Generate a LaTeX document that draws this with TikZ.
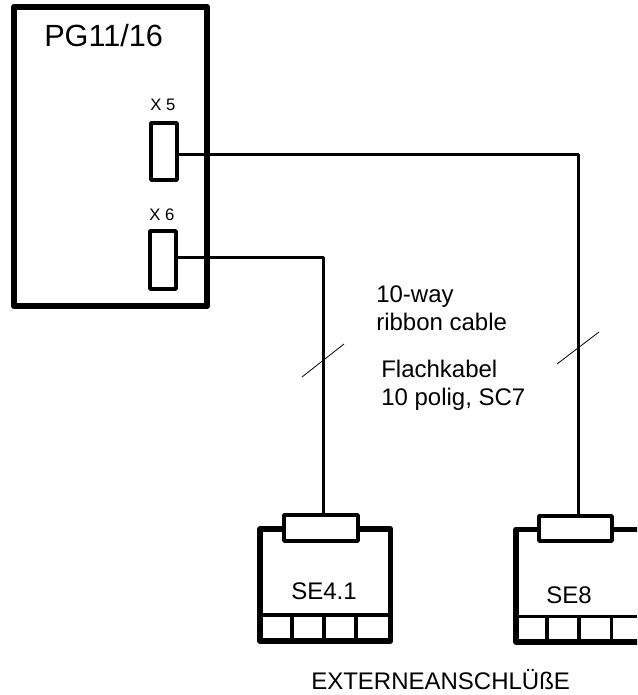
\documentclass[tikz,border=0pt]{standalone}
\usepackage{fontspec}
\setmainfont{Liberation Sans}
\usetikzlibrary{positioning}
\tikzset{
	housing/.style={draw=black, line width=4.8pt, line join=round, rectangle, inner sep=0pt},
	unit/.style={draw=black, line width=4pt, line join=round, rectangle, inner sep=0pt},
	socket/.style={draw=black, fill=white, line width=2.8pt, line join=round, rectangle, inner sep=0pt},
	cable/.style={black, line width=2.5pt, line join=round},
	tick/.style={black, line width=0.6pt},
	divider/.style={black, line width=2.6pt},
	label/.style={inner sep=0pt, font=\fontsize{18pt}{20.4pt}\selectfont, align=left, anchor=base west},
	portname/.style={label, font=\fontsize{12.5pt}{14pt}\selectfont}
}
\begin{document}
\begin{tikzpicture}[x=0.75pt, y=-0.75pt]
	\useasboundingbox (0,0) rectangle (637,695);
	\clip (0,0) rectangle (637,695);
	% main unit
	\node[housing, minimum width=144.75pt, minimum height=224.25pt] (pg) at (110.5,156.5) {};
	\node[label, font=\fontsize{23pt}{26pt}\selectfont] (pgname) at (44,46.5) {PG11/16};
	\node[socket, minimum width=19.5pt, minimum height=42.75pt] (xfive) at (164,151.5) {};
	\node[socket, minimum width=19.5pt, minimum height=43.5pt] (xsix) at (163,260) {};
	\node[portname] (xfivename) at (150,111) {X 5};
	\node[portname] (xsixname) at (149,220) {X 6};
	% external units
	\node[unit, minimum width=98pt, minimum height=84pt] (sefour) at (325.25,585) {};
	\node[unit, minimum width=120pt, minimum height=84.5pt] (seeight) at (596,585.75) {};
	\node[socket, minimum width=55.5pt, minimum height=19.5pt] (sefourplug) at (321,528) {};
	\node[socket, minimum width=54.75pt, minimum height=18.75pt] (seeightplug) at (575.5,528.5) {};
	\node[label] (sefourname) at (291,599) {SE4.1};
	\node[label] (seeightname) at (546,603) {SE8};
	% terminal strips
	\draw[divider] (sefour.west |- 0,615) -- (sefour.east |- 0,615);
	\draw[divider] (seeight.west |- 0,616.5) -- (637,616.5);
	\foreach \px in {292,324,356}
		\draw[divider] (\px,615) -- (\px,641);
	\foreach \px in {547,579,611.5}
		\draw[divider] (\px,616) -- (\px,642);
	% cables
	\coordinate (cablefive) at (578.5,154.5);
	\coordinate (cablesix) at (323.5,257.5);
	\draw[cable] (xfive.east |- cablefive) -- (cablefive) -- (cablefive |- seeightplug.north);
	\draw[cable] (xsix.east |- cablesix) -- (cablesix) -- (cablesix |- sefourplug.north);
	\draw[tick] (302,377) -- (344,344);
	\draw[tick] (557,364) -- (599,332);
	% cable text
	\node[label] (english) at (376,330) {10-way\\ribbon cable};
	\node[label] (german) at (381,405) {Flachkabel\\10 polig, SC7};
	\node[label] (caption) at (311,689) {EXTERNEANSCHLÜßE};
\end{tikzpicture}
\end{document}
